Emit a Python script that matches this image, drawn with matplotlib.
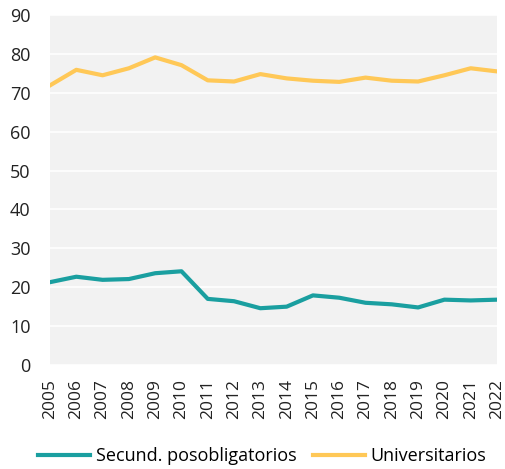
import matplotlib.pyplot as plt

years = list(range(2005, 2023))
secundarios = [21.3, 22.7, 21.9, 22.1, 23.6, 24.1, 17.0, 16.4, 14.6, 15.0,
               17.9, 17.3, 16.0, 15.6, 14.8, 16.8, 16.6, 16.8]
universitarios = [71.9, 75.9, 74.5, 76.3, 79.1, 77.1, 73.2, 72.9, 74.8, 73.7,
                  73.1, 72.8, 73.9, 73.1, 72.9, 74.5, 76.3, 75.5]

plt.rcParams['font.family'] = ['Open Sans', 'DejaVu Sans']

fig = plt.figure(figsize=(5.06, 4.69), dpi=100)
ax = fig.add_axes([50 / 506, 104 / 469, 447 / 506, 350 / 469])
ax.set_facecolor('#f2f2f2')

ax.plot(years, secundarios, color='#1a9fa0', lw=3, label='Secund. posobligatorios')
ax.plot(years, universitarios, color='#ffc857', lw=3, label='Universitarios')

ax.set_xlim(2005, 2022)
ax.set_ylim(0, 90)
ax.set_yticks(range(0, 91, 10))
ax.set_xticks(years)
ax.set_xticklabels([str(y) for y in years], rotation=90)
ax.grid(axis='y', color='white', lw=1.2)
ax.set_axisbelow(True)
for s in ax.spines.values():
    s.set_visible(False)
ax.tick_params(length=0, labelsize=12.5, colors='#222222', pad=10)
ax.tick_params(axis='y', labelsize=13, pad=14)

fig.legend(loc='center', bbox_to_anchor=(0.518, 0.028), ncol=2, frameon=False,
           fontsize=13, handlelength=2.9, handletextpad=0.3, columnspacing=0.9)

fig.savefig('out.png', dpi=100)
